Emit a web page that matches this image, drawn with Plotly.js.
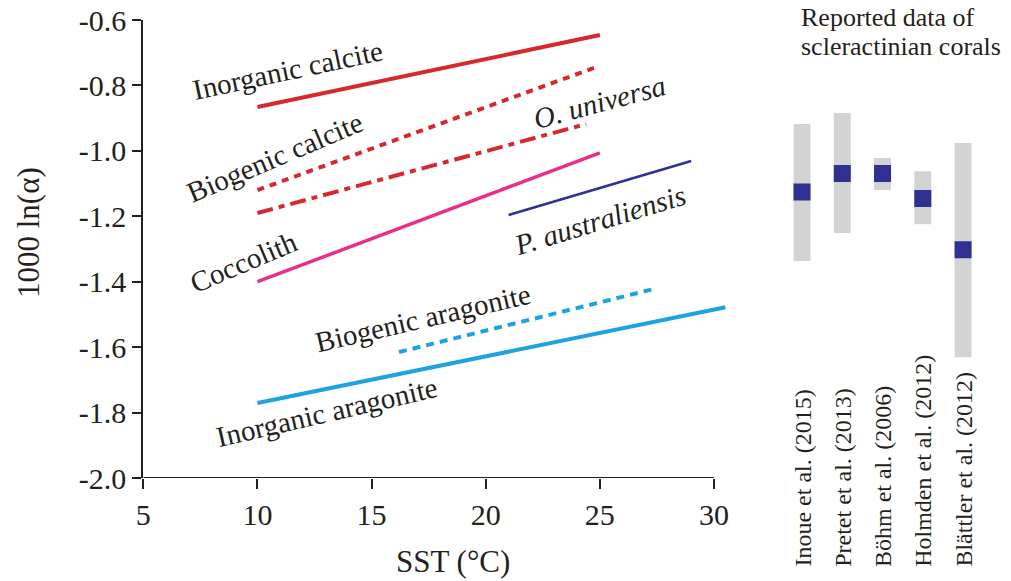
<!DOCTYPE html>
<html>
<head>
<meta charset="utf-8">
<script src="https://cdn.plot.ly/plotly-3.0.1.min.js"></script>
<style>html,body{margin:0;padding:0;background:#fff;}#chart{width:1011px;height:581px;}</style>
</head>
<body>
<div id="chart"></div>
<script>
// ---- Data ----
const inorgCalciteSST = [10, 25];
const inorgCalciteVal = [-0.866, -0.646];
const bioCalciteSST = [10, 24.8];
const bioCalciteVal = [-1.12, -0.745];
const oUniversaSST = [10, 24.4];
const oUniversaVal = [-1.19, -0.918];
const coccolithSST = [10, 25];
const coccolithVal = [-1.40, -1.006];
const pAustralSST = [21, 29];
const pAustralVal = [-1.196, -1.031];
const bioAragSST = [16.2, 27.5];
const bioAragVal = [-1.615, -1.42];
const inorgAragSST = [10, 30.5];
const inorgAragVal = [-1.771, -1.478];

const coralStudies = ['Inoue et al. (2015)', 'Pretet et al. (2013)', 'Böhm et al. (2006)', 'Holmden et al. (2012)', 'Blättler et al. (2012)'];
const coralLow  = [-1.337, -1.251, -1.120, -1.224, -1.631];
const coralHigh = [-0.918, -0.884, -1.022, -1.062, -0.976];
const coralMean = [-1.126, -1.069, -1.069, -1.146, -1.302];

const yTickVals = [-2.0, -1.8, -1.6, -1.4, -1.2, -1.0, -0.8, -0.6];
const yTickText = ['-2.0', '-1.8', '-1.6', '-1.4', '-1.2', '-1.0', '-0.8', '-0.6'];
const xTickVals = [5, 10, 15, 20, 25, 30];

// ---- Styling ----
const FONT = 'Liberation Serif, Times New Roman, serif';
const INK = '#231f20';
const RED = '#d7282f', PINK = '#e6308a', NAVY = '#2e3192', CYAN = '#1fa3dd', GREY = '#d1d3d4';

function line(x, y, color, width, dash) {
  return {type: 'scatter', mode: 'lines', x: x, y: y, xaxis: 'x', yaxis: 'y',
          line: {color: color, width: width, dash: dash || 'solid'}, hoverinfo: 'skip'};
}

const traces = [
  line(inorgCalciteSST, inorgCalciteVal, RED, 4),
  line(bioCalciteSST, bioCalciteVal, RED, 4, '7px,6px'),
  line(oUniversaSST, oUniversaVal, RED, 4, '16px,6px,6px,6px'),
  line(coccolithSST, coccolithVal, PINK, 3.5),
  line(pAustralSST, pAustralVal, NAVY, 2.5),
  line(bioAragSST, bioAragVal, CYAN, 4, '8px,6px'),
  line(inorgAragSST, inorgAragVal, CYAN, 4),
  {type: 'bar', x: coralStudies, base: coralLow,
   y: coralHigh.map((h, i) => h - coralLow[i]),
   xaxis: 'x2', yaxis: 'y', width: 0.42,
   marker: {color: GREY, line: {width: 0}}, hoverinfo: 'skip'},
  {type: 'scatter', mode: 'markers', x: coralStudies, y: coralMean,
   xaxis: 'x2', yaxis: 'y',
   marker: {symbol: 'square', size: 17, color: NAVY, line: {width: 0}}, hoverinfo: 'skip'}
];

function px2x(px) { return px / 1011; }
function py2y(py) { return 1 - py / 581; }

// x axis: 5 -> 143.3 px, 30 -> 714 px; range extended slightly so the
// inorganic aragonite line (to 30.5 degC) is not clipped.
const XMIN = 5, XMAX_AXIS = 30, XMAX_RANGE = 30.65;
const pxPerUnit = (714 - 143.3) / (XMAX_AXIS - XMIN);
const xDomRight = 143.3 + pxPerUnit * (XMAX_RANGE - XMIN);

const labels = [
  {text: 'Inorganic calcite', x: 11.34, y: -0.753, a: -12},
  {text: 'Biogenic calcite', x: 10.77, y: -1.019, a: -23},
  {text: '<i>O. universa</i>', x: 25.0, y: -0.851, a: -15},
  {text: '<i>P. australiensis</i>', x: 25.0, y: -1.212, a: -17},
  {text: 'Coccolith', x: 9.4, y: -1.34, a: -23},
  {text: 'Biogenic aragonite', x: 17.25, y: -1.511, a: -13},
  {text: 'Inorganic aragonite', x: 13.05, y: -1.799, a: -13}
];

const annotations = labels.map(l => ({
  text: l.text, x: l.x, y: l.y, xref: 'x', yref: 'y', textangle: l.a,
  showarrow: false, xanchor: 'center', yanchor: 'middle',
  font: {family: FONT, size: 29, color: INK}
}));

// axis titles
annotations.push({text: '1000 ln(α)', xref: 'paper', yref: 'paper', x: px2x(28), y: py2y(233),
  textangle: -90, showarrow: false, xanchor: 'center', yanchor: 'middle',
  font: {family: FONT, size: 31, color: INK}});
annotations.push({text: 'SST (°C)', xref: 'paper', yref: 'paper', x: px2x(453), y: py2y(561),
  showarrow: false, xanchor: 'center', yanchor: 'middle',
  font: {family: FONT, size: 31, color: INK}});

// right panel title
annotations.push({text: 'Reported data of', xref: 'paper', yref: 'paper', x: px2x(799), y: py2y(17),
  showarrow: false, xanchor: 'left', yanchor: 'middle', font: {family: FONT, size: 26, color: INK}});
annotations.push({text: 'scleractinian corals', xref: 'paper', yref: 'paper', x: px2x(799), y: py2y(47),
  showarrow: false, xanchor: 'left', yanchor: 'middle', font: {family: FONT, size: 26, color: INK}});

// rotated study names
coralStudies.forEach((s, i) => {
  annotations.push({text: s, xref: 'x2', yref: 'paper', x: i, y: py2y(569),
    textangle: -90, showarrow: false, xanchor: 'center', yanchor: 'bottom',
    font: {family: FONT, size: 24, color: INK}});
});

const layout = {
  width: 1011, height: 581,
  margin: {l: 0, r: 0, t: 0, b: 0},
  paper_bgcolor: '#ffffff', plot_bgcolor: 'rgba(0,0,0,0)',
  showlegend: false, hovermode: false,
  font: {family: FONT, color: INK},
  xaxis: {
    domain: [px2x(143.3), px2x(xDomRight)], range: [XMIN, XMAX_RANGE], anchor: 'y',
    tickmode: 'array', tickvals: xTickVals,
    ticks: 'outside', ticklen: 10, tickwidth: 2, tickcolor: INK,
    showline: false, showgrid: false, zeroline: false,
    tickfont: {family: FONT, size: 30, color: INK}
  },
  yaxis: {
    domain: [py2y(478), py2y(20)], range: [-2.0, -0.6], anchor: 'x',
    tickmode: 'array', tickvals: yTickVals, ticktext: yTickText,
    ticks: 'outside', ticklen: 9, tickwidth: 2, tickcolor: INK,
    showline: true, linewidth: 2, linecolor: INK, showgrid: false, zeroline: false,
    tickfont: {family: FONT, size: 30, color: INK}
  },
  xaxis2: {
    domain: [px2x(781.9), px2x(983.2)], range: [-0.5, 4.5], anchor: 'y',
    visible: false, type: 'category'
  },
  shapes: [
    // x axis baseline spanning the labelled tick range only
    {type: 'line', xref: 'x', yref: 'y', x0: xTickVals[0], x1: xTickVals[xTickVals.length - 1],
     y0: yTickVals[0], y1: yTickVals[0], line: {color: INK, width: 2}, layer: 'above'}
  ],
  annotations: annotations
};

Plotly.newPlot('chart', traces, layout, {staticPlot: true, displayModeBar: false});
</script>
</body>
</html>
